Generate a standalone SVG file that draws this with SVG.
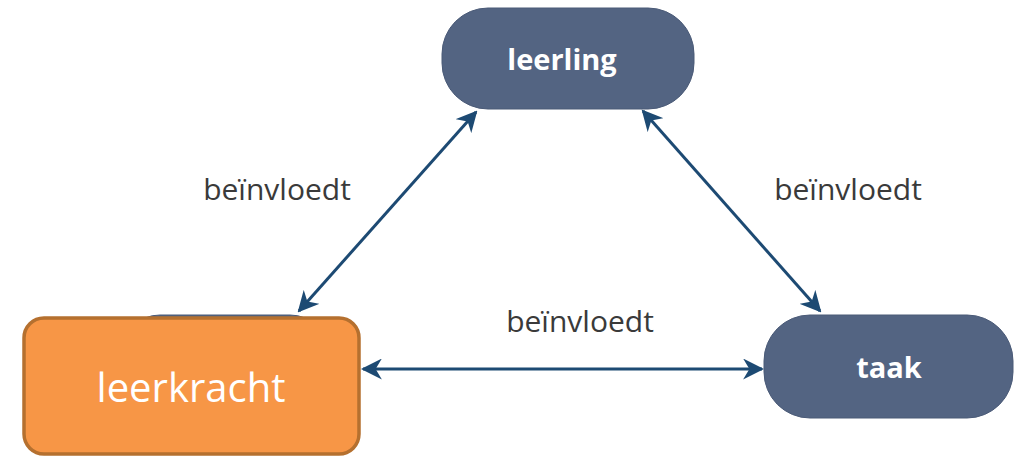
<svg xmlns="http://www.w3.org/2000/svg" width="1014" height="456" viewBox="0 0 1014 456">
<style>
.blue{fill:#536482;stroke:#4a5a77;stroke-width:1}
.nlab{font-family:"Open Sans","Noto Sans",sans-serif;font-weight:bold;font-size:29px;fill:#ffffff;text-anchor:middle}
.elab{font-family:"Open Sans","Noto Sans",sans-serif;font-size:30px;fill:#3a3a3a;text-anchor:middle}
.conn{stroke:#1d4a73;stroke-width:3;fill:none;marker-start:url(#ah);marker-end:url(#ah)}
</style>
<defs>
<marker id="ah" viewBox="0 0 10 10" refX="9" refY="5" markerWidth="7" markerHeight="7" orient="auto-start-reverse" markerUnits="strokeWidth">
<path d="M0,0 L10,5 L0,10 L3,5 Z" fill="#1d4a73"/>
</marker>
</defs>
<rect width="1014" height="456" fill="#ffffff"/>
<g id="connectors">
<line class="conn" x1="299" y1="311" x2="476" y2="112"/>
<line class="conn" x1="643" y1="111" x2="820" y2="311"/>
<line class="conn" x1="363" y1="369" x2="762" y2="369"/>
<text class="elab" x="277" y="200">beïnvloedt</text>
<text class="elab" x="848" y="200">beïnvloedt</text>
<text class="elab" x="580" y="332">beïnvloedt</text>
</g>
<g id="leerling">
<rect class="blue" x="442" y="8" width="252" height="101" rx="46"/>
<text class="nlab" x="562" y="70">leerling</text>
</g>
<g id="taak">
<rect class="blue" x="764" y="315" width="249" height="103" rx="46"/>
<text class="nlab" x="889" y="378">taak</text>
</g>
<g id="leerkracht">
<rect class="blue" x="120" y="315" width="210" height="100" rx="40"/>
<rect x="24" y="318" width="335" height="136" rx="20" fill="#f79646" stroke="#b5702f" stroke-width="3.5"/>
<text x="191" y="402" font-family="Open Sans, Noto Sans, sans-serif" font-size="40" fill="#ffffff" text-anchor="middle">leerkracht</text>
</g>
</svg>
